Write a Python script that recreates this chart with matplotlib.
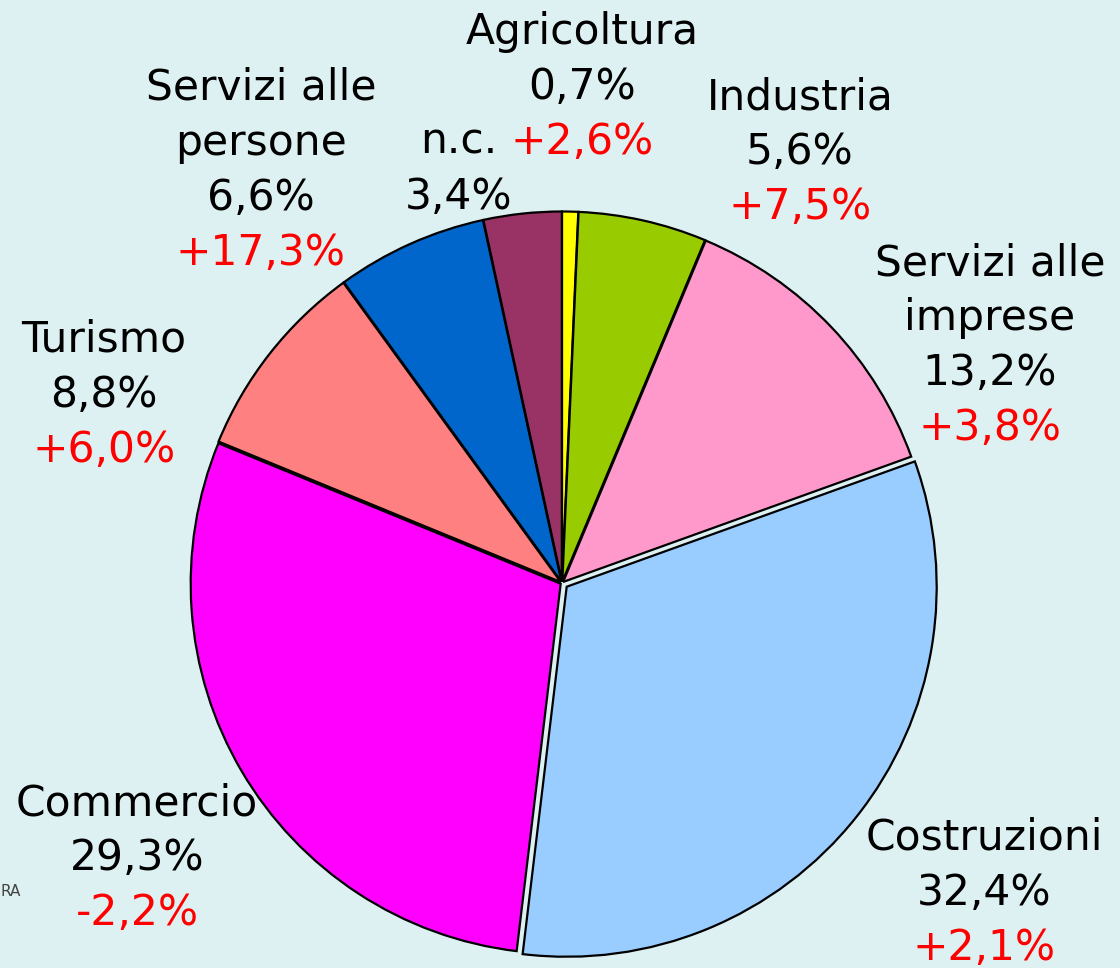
import matplotlib
matplotlib.use("Agg")
import matplotlib.pyplot as plt

# Data
categories = ["Agricoltura", "Industria", "Servizi alle\nimprese", "Costruzioni",
              "Commercio", "Turismo", "Servizi alle\npersone", "n.c."]
shares = [0.7, 5.6, 13.2, 32.4, 29.3, 8.8, 6.6, 3.4]
share_labels = ["0,7%", "5,6%", "13,2%", "32,4%", "29,3%", "8,8%", "6,6%", "3,4%"]
changes = ["+2,6%", "+7,5%", "+3,8%", "+2,1%", "-2,2%", "+6,0%", "+17,3%", ""]
colors = ["#FFFF00", "#99CC00", "#FF99CC", "#99CCFF", "#FF00FF", "#FF8080", "#0066CC", "#993366"]
explode = [1.5, 1.5, 1.5, 6.0, 1.5, 1.5, 1.5, 1.5]  # pixel offsets

W, H = 1120, 968
BG = "#DEF1F2"
fig = plt.figure(figsize=(W / 100, H / 100), dpi=100, facecolor=BG)
ax = fig.add_axes([0, 0, 1, 1])
ax.set_facecolor(BG)
ax.axis("off")

cx, cy, r = 562, H - 583, 370
ax.pie(shares, colors=colors, startangle=90, counterclock=False,
       center=(cx, cy), radius=r, explode=explode,
       wedgeprops=dict(edgecolor="black", linewidth=1.6))
ax.set_xlim(0, W)
ax.set_ylim(0, H)
ax.set_aspect("equal")

fs = 30.5
# label positions in pixel coordinates (x center, y of first line)
pos = {
    0: (582, 32),
    1: (800, 97),
    2: (990, 263),
    3: (984, 838),
    4: (137, 803),
    5: (104, 340),
    6: (261, 88),
    7: (459, 142),
}
step = 55
for i, cat in enumerate(categories):
    x, y = pos[i]
    lines = cat.split("\n") + [share_labels[i]]
    for k, ln in enumerate(lines):
        ax.text(x, H - (y + k * step), ln, ha="center", va="center",
                fontsize=fs, color="black", family="DejaVu Sans")
    if changes[i]:
        k = len(lines)
        ax.text(x, H - (y + k * step), changes[i], ha="center", va="center",
                fontsize=fs, color="#FF0000", family="DejaVu Sans")

ax.text(1, H - 892, "RA", ha="left", va="center", fontsize=11, color="#444444",
        family="DejaVu Sans")

fig.savefig("out.png", dpi=100, facecolor=BG)
